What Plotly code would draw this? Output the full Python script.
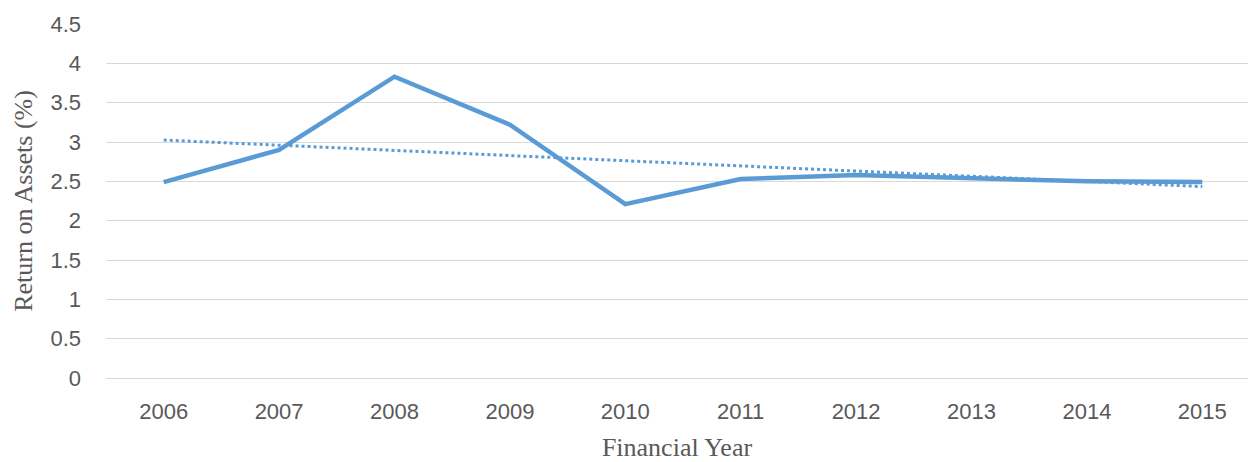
import numpy as np
import plotly.graph_objects as go

years = ["2006", "2007", "2008", "2009", "2010", "2011", "2012", "2013", "2014", "2015"]
roa = [2.49, 2.90, 3.83, 3.22, 2.21, 2.53, 2.58, 2.54, 2.50, 2.49]
y_ticks = [0, 0.5, 1, 1.5, 2, 2.5, 3, 3.5, 4, 4.5]

idx = np.arange(len(years))
slope, intercept = np.polyfit(idx, roa, 1)
trend = slope * idx + intercept

blue = "#5B9BD5"
serif = "Liberation Serif, Times New Roman, serif"
fig = go.Figure()
fig.add_trace(go.Scatter(x=years, y=trend, mode="lines",
                         line=dict(color=blue, width=3, dash="dot"),
                         hoverinfo="skip", showlegend=False))
fig.add_trace(go.Scatter(x=years, y=roa, mode="lines",
                         line=dict(color=blue, width=4.5),
                         showlegend=False))

fig.update_layout(
    width=1248, height=462,
    margin=dict(l=106, r=0, t=24, b=84),
    paper_bgcolor="white", plot_bgcolor="white",
    font=dict(family="Liberation Sans, Arial, sans-serif", color="#595959", size=22),
    xaxis=dict(type="category", range=[-0.5, 9.396], showgrid=False, zeroline=False,
               showline=False, ticks="", ticklabelstandoff=18,
               tickfont=dict(size=22, color="#595959"),
               title=dict(text="Financial Year", standoff=14,
                          font=dict(family=serif, size=26, color="#595959"))),
    yaxis=dict(range=[0, 4.5], tickvals=y_ticks, ticktext=[f"{v:g}" for v in y_ticks],
               showgrid=True, gridcolor="#D9D9D9", gridwidth=1,
               zeroline=True, zerolinecolor="#D9D9D9", zerolinewidth=1,
               showline=False, ticks="", ticklabelstandoff=24,
               tickfont=dict(size=22, color="#595959"),
               title=dict(text="Return on Assets (%)", standoff=10,
                          font=dict(family=serif, size=26, color="#595959"))),
)

fig.write_html("out.html")
